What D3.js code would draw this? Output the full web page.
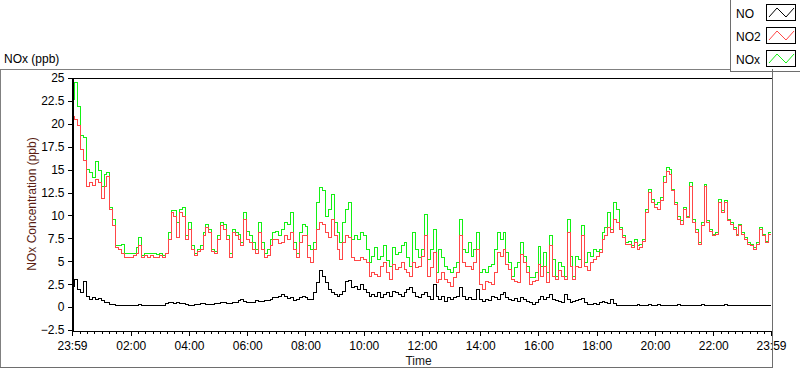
<!DOCTYPE html>
<html><head><meta charset="utf-8">
<script src="https://cdn.jsdelivr.net/npm/d3@7"></script>
<style>
html,body{margin:0;padding:0;background:#fff;}
svg{display:block;font-family:"Liberation Sans",Arial,sans-serif;}
</style></head>
<body><svg id="chart" width="800" height="369"></svg>
<script>
// ---- data (one sample every 6 minutes from 23:59 to 23:59 next day) ----
const sampleStepMinutes = 6;
const seriesNames = ["NO", "NO2", "NOx"];
const yTickValues = [-2.5, 0, 2.5, 5, 7.5, 10, 12.5, 15, 17.5, 20, 22.5, 25];
const xTickLabelHours = [2, 4, 6, 8, 10, 12, 14, 16, 18, 20, 22];

const no2 = [
20.85,20.5,19.8,17.2,16.0,13.2,13.6,13.3,13.9,13.6,
11.9,13.2,14.3,10.7,8.9,6.5,6.3,5.9,5.4,5.4,
5.4,5.6,5.9,6.7,5.4,5.6,5.4,5.6,5.4,5.4,
5.6,5.4,5.8,7.4,10.3,9.9,7.6,10.3,9.9,7.4,
8.5,6.3,5.6,6.1,6.3,7.8,8.7,8.1,6.1,5.9,
7.4,8.9,8.5,7.4,5.4,8.1,7.8,7.4,6.7,9.6,
7.4,7.0,6.3,5.9,8.1,6.3,5.4,5.6,6.7,7.4,
7.4,6.9,7.0,7.8,7.4,8.1,6.3,5.4,7.0,7.8,
7.8,
5.39,4.85,6.3,8.49,9.21,9.03,8.12,7.57,9.58,7.76,
6.3,5.21,7.03,7.76,7.57,5.39,5.03,5.03,5.39,5.21,
4.85,3.39,3.75,3.57,3.39,4.48,4.85,3.75,3.03,4.66,
4.12,4.3,4.85,4.12,3.75,3.39,4.85,4.3,4.48,5.57,
7.76,3.39,4.3,5.94,2.66,3.03,3.75,3.03,2.66,2.3,
3.21,3.75,7.76,4.85,4.48,4.48,4.12,4.85,6.3,2.48,
1.93,2.84,2.66,2.48,3.75,5.94,5.57,6.3,4.66,4.12,
3.03,2.84,2.66,5.76,4.85,3.75,2.48,2.84,2.9,4.6,
3.39,4.48,2.66,6.67,3.39,3.03,3.94,3.39,3.03,8.12,
4.48,3.03,4.48,4.3,7.76,4.48,3.94,4.85,5.21,5.57,
5.94,7.39,7.76,8.67,8.12,9.58,9.21,8.49,7.57,6.85,
6.85,6.48,7.03,6.3,6.48,7.21,10.3,12.49,11.4,10.85,
10.67,11.58,13.6,14.85,14.5,12.67,11.2,9.58,9.03,10.67,
9.76,13.2,9.21,8.12,6.85,8.85,13.2,9.21,8.3,7.76,
7.94,11.4,10.3,11.4,9.4,9.03,8.49,7.76,8.85,7.94,
7.39,6.85,6.67,6.3,6.85,8.49,7.76,7.03,7.94,7.21
];

const nox = [
22.7,24.5,21.9,18.7,18.5,15.0,14.7,14.1,15.9,14.9,
13.2,14.5,14.7,10.85,9.6,6.7,6.7,6.85,5.8,5.8,
5.8,5.9,6.5,7.6,5.6,5.9,5.9,5.9,5.8,5.7,
5.8,5.6,5.9,8.1,10.5,10.5,9.2,10.7,10.85,7.8,
9.2,6.7,5.9,6.3,6.7,8.1,9.0,8.5,6.3,6.1,
7.8,9.2,9.0,7.8,5.9,8.5,8.1,7.9,7.0,10.3,
8.3,7.8,7.0,6.3,9.2,7.0,5.9,6.3,7.4,8.1,
8.3,7.8,8.5,9.2,9.0,10.3,7.0,5.9,8.1,9.0,
8.8,
6.67,6.3,7.03,11.4,13.0,12.67,9.94,10.67,12.3,9.21,
8.12,7.03,9.21,10.67,11.4,7.39,7.76,7.39,8.12,7.76,
6.3,4.85,5.57,6.48,5.21,5.57,6.67,5.03,4.48,6.48,
5.76,5.94,6.67,7.03,5.39,4.48,8.12,6.3,5.39,6.3,
10.12,5.21,6.3,8.49,3.75,6.3,5.39,4.48,4.12,3.75,
4.3,4.85,9.58,6.3,5.94,7.03,5.57,6.3,8.12,3.75,
4.12,3.75,4.48,4.66,6.3,8.12,7.39,8.12,5.94,4.85,
3.39,4.3,4.85,7.03,5.57,4.48,3.21,3.21,3.75,6.6,
4.48,5.94,3.75,7.76,5.21,3.39,4.85,4.48,3.39,9.58,
5.57,3.39,5.57,5.21,8.85,4.85,5.94,5.57,6.3,6.12,
6.3,8.12,8.67,10.3,8.49,11.4,10.67,8.67,7.76,7.03,
7.21,6.67,7.39,6.67,6.85,7.39,10.67,12.85,11.76,11.2,
11.4,11.94,14.3,15.2,15.0,12.85,11.4,9.94,9.4,10.85,
9.94,13.6,9.58,8.49,7.03,9.21,13.4,9.4,8.49,7.94,
8.12,11.76,10.49,11.58,9.58,9.21,8.67,7.94,9.03,8.12,
7.57,7.03,6.85,6.48,7.03,8.67,7.94,7.21,8.12,7.39
];

const no = [
2.3,3.0,1.9,1.6,2.8,1.2,0.85,1.0,0.85,0.9,
0.77,0.55,0.48,0.3,0.26,0.19,0.19,0.15,0.19,0.15,
0.19,0.15,0.19,0.23,0.15,0.19,0.15,0.12,0.19,0.15,
0.12,0.19,0.35,0.48,0.55,0.41,0.48,0.35,0.34,0.23,
0.19,0.19,0.23,0.26,0.34,0.34,0.26,0.23,0.3,0.41,
0.35,0.48,0.48,0.34,0.41,0.48,0.55,0.73,0.85,0.62,
0.55,0.48,0.48,0.77,0.62,0.66,0.73,0.77,0.85,1.03,
1.1,1.21,1.39,1.21,0.92,1.03,0.77,0.84,1.1,1.21,
1.0,
0.84,0.84,1.57,2.66,3.94,3.39,2.66,1.93,1.57,1.39,
1.21,1.39,1.75,2.84,2.95,2.12,2.3,1.93,2.48,1.93,
1.57,1.21,1.39,1.21,1.57,1.03,1.39,1.57,1.21,1.75,
1.57,1.39,1.21,1.57,1.93,2.12,1.57,1.21,1.03,1.39,
1.57,1.21,0.84,2.48,1.21,0.84,1.21,0.66,1.03,0.84,
1.03,1.21,2.12,1.21,0.84,1.03,0.84,0.84,1.93,0.84,
0.66,0.84,0.77,1.21,1.03,0.84,1.39,1.57,1.03,0.84,
0.77,0.92,0.66,1.03,0.84,0.66,0.48,0.3,0.55,0.84,
1.21,0.84,1.03,1.39,0.84,0.77,0.66,0.48,1.39,0.84,
0.48,0.66,0.77,0.84,0.92,0.48,0.3,0.26,0.34,0.3,
0.48,0.66,0.55,0.41,0.84,0.41,0.19,0.19,0.15,0.19,
0.12,0.15,0.19,0.23,0.19,0.15,0.19,0.23,0.15,0.19,
0.26,0.19,0.15,0.19,0.12,0.15,0.19,0.23,0.15,0.12,
0.15,0.19,0.15,0.12,0.15,0.23,0.19,0.15,0.12,0.15,
0.19,0.15,0.19,0.23,0.15,0.12,0.15,0.19,0.15,0.12,
0.15,0.15,0.19,0.12,0.15,0.12,0.15,0.19,0.12,0.15
];

// ---- layout ----
const W = 800, H = 369;
const plot = {left: 72, right: 771, top: 78, bottom: 330};
const colors = {NO: "#000000", NO2: "#ff4747", NOx: "#14f014"};

const svg = d3.select("#chart");
svg.append("rect").attr("width", W).attr("height", H).attr("fill", "#fff");

const t0 = new Date(2000, 0, 1, 23, 59);
const t1 = new Date(2000, 0, 2, 23, 59);
const x = d3.scaleTime().domain([t0, t1]).range([plot.left, plot.right]);
const y = d3.scaleLinear().domain([-2.5, 25]).range([plot.bottom, plot.top]);

const timeOf = i => new Date(t0.getTime() + i * sampleStepMinutes * 60000);

// outer frame
const frame = svg.append("g").attr("fill", "none").attr("shape-rendering", "crispEdges");
frame.append("path").attr("d", "M0.5,368 V69.5 H730").attr("stroke", "#808080").attr("stroke-width", 1.5);
frame.append("path").attr("d", "M0,367.5 H772.5 V69").attr("stroke", "#6e6e6e").attr("stroke-width", 1.5);

// palette title
svg.append("text").attr("x", 4).attr("y", 63).attr("font-size", 12).attr("fill", "#000").text("NOx (ppb)");

// series
const clip = svg.append("clipPath").attr("id", "clip").append("rect")
  .attr("x", plot.left).attr("y", plot.top).attr("width", plot.right - plot.left).attr("height", plot.bottom - plot.top);
const gLines = svg.append("g").attr("clip-path", "url(#clip)");
const line = d3.line().x((d, i) => x(timeOf(i))).y(d => y(d)).curve(d3.curveStepAfter);
[["NOx", nox], ["NO2", no2], ["NO", no]].forEach(([name, vals]) => {
  gLines.append("path").datum(vals).attr("d", line).attr("fill", "none")
    .attr("stroke", colors[name]).attr("stroke-width", 1).attr("shape-rendering", "crispEdges");
});

// plot border
svg.append("path").attr("d", `M${plot.left+0.5},${plot.bottom+0.5} V${plot.top+0.5} H${plot.right+0.5}`)
  .attr("fill", "none").attr("stroke", "#000").attr("shape-rendering", "crispEdges");

// y axis
const yAxis = d3.axisLeft(y).tickValues(yTickValues).tickSize(5).tickPadding(3).tickFormat(d3.format("~g"));
const gy = svg.append("g").attr("transform", `translate(${plot.left + 0.5},0)`).call(yAxis);
gy.select(".domain").attr("stroke", "#000").attr("shape-rendering", "crispEdges");
gy.selectAll(".tick line").attr("stroke", "#000").attr("shape-rendering", "crispEdges");
gy.selectAll("text").attr("font-size", 12).attr("font-family", "Liberation Sans, Arial, sans-serif").attr("fill", "#000");

// x axis: majors at start, even hours, end; minors every 15 minutes
const majorTimes = [t0].concat(xTickLabelHours.map(h => new Date(2000, 0, 2, h, 0))).concat([t1]);
const minorTimes = d3.timeMinute.every(15).range(t0, t1);
const gx = svg.append("g").attr("transform", `translate(0,${plot.bottom + 0.5})`);
gx.call(d3.axisBottom(x).tickValues(minorTimes).tickSize(3).tickFormat(""));
gx.select(".domain").remove();
gx.selectAll(".tick line").attr("stroke", "#000").attr("shape-rendering", "crispEdges");
const gx2 = svg.append("g").attr("transform", `translate(0,${plot.bottom + 0.5})`);
gx2.call(d3.axisBottom(x).tickValues(majorTimes).tickSize(5).tickPadding(6).tickFormat(d3.timeFormat("%H:%M")));
gx2.select(".domain").attr("stroke", "#000").attr("shape-rendering", "crispEdges");
gx2.selectAll(".tick line").attr("stroke", "#000").attr("shape-rendering", "crispEdges");
gx2.selectAll("text").attr("font-size", 12).attr("font-family", "Liberation Sans, Arial, sans-serif").attr("fill", "#000");

// axis titles
svg.append("text").attr("x", (plot.left + plot.right) / 2 - 3).attr("y", 365).attr("text-anchor", "middle")
  .attr("font-size", 12).attr("fill", "#1a1a1a").text("Time");
svg.append("text").attr("transform", `translate(36,${(plot.top + plot.bottom) / 2}) rotate(-90)`)
  .attr("text-anchor", "middle").attr("font-size", 12).attr("fill", "#5a1e14").text("NOx Concentration (ppb)");

// legend
const lg = svg.append("g");
lg.append("path").attr("d", "M730.5,0 V71.5 H800").attr("fill", "none").attr("stroke", "#6e6e6e")
  .attr("stroke-width", 1.5).attr("shape-rendering", "crispEdges");
seriesNames.forEach((name, k) => {
  const top = 4 + k * 23;
  lg.append("text").attr("x", 736).attr("y", top + 14).attr("font-size", 12).attr("fill", "#000").text(name);
  lg.append("rect").attr("x", 766.5).attr("y", top + 0.5).attr("width", 29).attr("height", 16)
    .attr("fill", "#fff").attr("stroke", "#000").attr("shape-rendering", "crispEdges");
  lg.append("path").attr("d", `M${769},${top+13} L${777},${top+4} L${786},${top+13} L${794},${top+4}`)
    .attr("fill", "none").attr("stroke", colors[name]).attr("stroke-width", 1);
});
</script>
</body></html>
